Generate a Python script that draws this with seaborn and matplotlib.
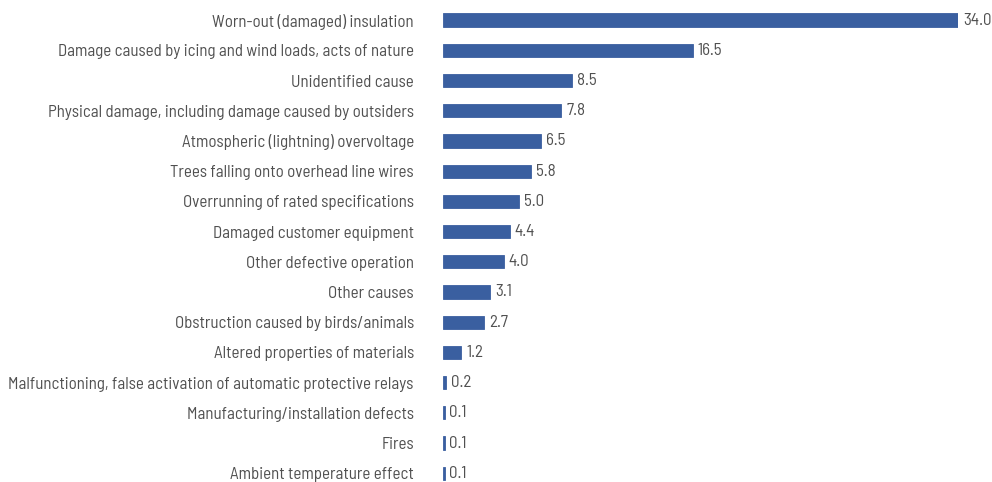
import matplotlib
matplotlib.use("Agg")
import matplotlib.pyplot as plt
import seaborn as sns
import pandas as pd

causes = [
    "Worn-out (damaged) insulation",
    "Damage caused by icing and wind loads, acts of nature",
    "Unidentified cause",
    "Physical damage, including damage caused by outsiders",
    "Atmospheric (lightning) overvoltage",
    "Trees falling onto overhead line wires",
    "Overrunning of rated specifications",
    "Damaged customer equipment",
    "Other defective operation",
    "Other causes",
    "Obstruction caused by birds/animals",
    "Altered properties of materials",
    "Malfunctioning, false activation of automatic protective relays",
    "Manufacturing/installation defects",
    "Fires",
    "Ambient temperature effect",
]
shares = [34.0, 16.5, 8.5, 7.8, 6.5, 5.8, 5.0, 4.4, 4.0, 3.1, 2.7, 1.2, 0.2, 0.1, 0.1, 0.1]

df = pd.DataFrame({"cause": causes, "share": shares})

sns.set_theme(style="white")
plt.rcParams["font.family"] = ["Barlow Semi Condensed", "DejaVu Sans"]

W, H = 992, 482
fig = plt.figure(figsize=(W / 100, H / 100), dpi=100)
ax = fig.add_axes([443 / W, 0, (958 - 443) / W, 1 - 5 / H])

bar_color = "#3A5FA0"
text_color = "#505050"

sns.barplot(data=df, y="cause", x="share", orient="h", color=bar_color,
            width=0.44, saturation=1, edgecolor=bar_color, linewidth=0.6, ax=ax)

ax.bar_label(ax.containers[0], labels=[f"{v:.1f}" for v in shares],
             padding=3.5, fontsize=12.2, color=text_color, clip_on=False)

ax.set_xlim(0, 34)
ax.set_ylim(15.29, -0.5)
ax.set_xlabel("")
ax.set_ylabel("")
ax.set_xticks([])
ax.tick_params(axis="y", length=0, pad=21, labelsize=12.2, labelcolor=text_color)
for s in ax.spines.values():
    s.set_visible(False)

fig.savefig("out.png", dpi=100)
